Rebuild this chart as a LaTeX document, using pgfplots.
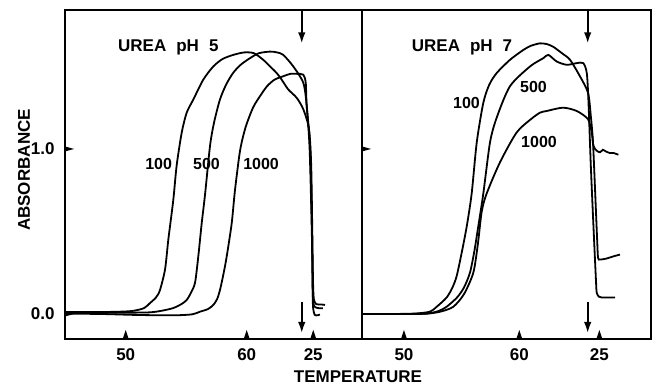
\documentclass[border=0pt]{standalone}
\usepackage{pgfplots}
\pgfplotsset{compat=1.18}
\usepackage{fontspec}
\setmainfont{Liberation Sans}
\usetikzlibrary{arrows.meta}
\newcommand{\lf}{\fontsize{17}{20}\selectfont\bfseries}
\newcommand{\cf}{\fontsize{16}{19}\selectfont\bfseries}
\newcommand{\xtri}[1]{\fill ([xshift=-3pt]axis cs:#1,-0.1515) -- ([yshift=9pt]axis cs:#1,-0.1515) -- ([xshift=3pt]axis cs:#1,-0.1515) -- cycle;}
\begin{document}
\begin{tikzpicture}
\path[use as bounding box] (0,0) rectangle (658pt,387pt);
\pgfplotsset{
  panel/.style={
    scale only axis, anchor=south west, height=329pt,
    ymin=-0.1515, ymax=1.842,
    tick style={draw=none},
    axis line style={line width=1.5pt},
    ticklabel style={font=\lf},
    xticklabel style={yshift=-6pt},
    yticklabel style={xshift=-7pt},
    cycle list={{black,solid}},
    no markers,
    every axis plot/.append style={line width=1.8pt, smooth, tension=0.45},
  }
}
% ---------- left panel: UREA pH 5 ----------
\begin{axis}[panel, at={(65pt,48pt)}, width=297pt,
  xmin=44.98, xmax=69.53,
  xtick={50,60,65.5}, xticklabels={\textbf{50},\textbf{60},\textbf{25}},
  ytick={0,1}, yticklabels={\textbf{0.0},\textbf{1.0}}]
% 100
\addplot coordinates {(45.0,0.012)(47,0.012)(49,0.013)(50.5,0.018)(51.5,0.035)(52.0,0.066)(52.5,0.10)(52.83,0.145)(53.25,0.27)(53.52,0.45)(53.93,0.69)(54.21,0.90)(54.63,1.10)(55.04,1.22)(55.59,1.30)(56.41,1.42)(57.24,1.50)(58.0,1.545)(58.89,1.57)(59.8,1.585)(60.6,1.58)(61.37,1.54)(61.79,1.51)(62.07,1.49)(62.48,1.46)(62.89,1.42)(63.44,1.36)(64.13,1.31)(64.68,1.24)(65.15,1.12)(65.33,0.9)(65.42,0.5)(65.48,0.2)(65.55,0.09)(65.75,0.06)(66.1,0.058)(66.47,0.055)};
% 500
\addplot coordinates {(45.0,0.008)(48,0.008)(50,0.008)(52.0,0.01)(53.0,0.02)(53.93,0.036)(54.6,0.06)(55.04,0.085)(55.4,0.13)(55.73,0.19)(56.0,0.35)(56.28,0.55)(56.55,0.72)(56.97,1.02)(57.3,1.16)(57.79,1.30)(58.3,1.39)(58.87,1.46)(59.5,1.51)(60.27,1.55)(61.0,1.58)(61.93,1.59)(62.5,1.585)(63.02,1.57)(63.85,1.50)(64.68,1.40)(64.96,1.26)(65.2,1.0)(65.38,0.5)(65.45,0.15)(65.52,0.06)(65.7,0.04)(66.0,0.035)(66.3,0.035)};
% 1000
\addplot coordinates {(45.0,0.002)(48,0.0)(51,-0.006)(54,-0.008)(55.5,-0.002)(56.14,0.014)(56.8,0.03)(57.24,0.055)(57.55,0.09)(57.79,0.145)(58.1,0.25)(58.35,0.35)(58.76,0.55)(59.03,0.75)(59.45,0.99)(59.9,1.13)(60.52,1.25)(61.1,1.32)(61.68,1.38)(62.3,1.42)(63.0,1.44)(63.6,1.455)(64.16,1.455)(64.68,1.45)(64.88,1.40)(64.96,1.26)(65.25,1.0)(65.4,0.5)(65.46,0.1)(65.5,0.03)(65.62,-0.005)(65.85,-0.008)(66.05,-0.003)};
% ticks
\xtri{50}\xtri{60}\xtri{65.5}
\fill ([yshift=-2.5pt]axis cs:44.98,1) -- ([xshift=9pt]axis cs:44.98,1) -- ([yshift=2.5pt]axis cs:44.98,1) -- cycle;
\fill ([yshift=-2.5pt]axis cs:44.98,0) -- ([xshift=9pt]axis cs:44.98,0) -- ([yshift=2.5pt]axis cs:44.98,0) -- cycle;
% arrows
\draw[line width=1.7pt, -{Latex[length=11pt,width=7.5pt]}] (axis cs:64.55,1.842) -- (axis cs:64.55,1.64);
\draw[line width=1.7pt, -{Latex[length=11pt,width=7.5pt]}] (axis cs:64.55,0.075) -- (axis cs:64.55,-0.115);
% labels
\node[anchor=base west, font=\lf, inner sep=0pt] at (axis cs:49.36,1.588) {UREA\hspace{10pt}pH\hspace{10pt}5};
\node[anchor=base west, font=\cf, inner sep=0pt] at (axis cs:51.6,0.873) {100};
\node[anchor=base west, font=\cf, inner sep=0pt] at (axis cs:55.56,0.873) {500};
\node[anchor=base west, font=\cf, inner sep=0pt] at (axis cs:59.70,0.873) {1000};
\end{axis}
% ---------- right panel: UREA pH 7 ----------
\begin{axis}[panel, at={(362pt,48pt)}, width=289pt,
  xmin=46.36, xmax=71.42,
  xtick={50,60,66.94}, xticklabels={\textbf{50},\textbf{60},\textbf{25}},
  ytick=\empty]
% 100
\addplot coordinates {(46.36,0.0)(49,0.0)(51,0.003)(52.25,0.014)(52.84,0.044)(53.70,0.10)(54.2,0.16)(54.57,0.23)(55.0,0.37)(55.44,0.53)(55.87,0.73)(56.31,1.04)(56.88,1.28)(57.4,1.39)(58.04,1.46)(59.19,1.54)(60.35,1.60)(61.0,1.625)(61.80,1.64)(62.4,1.635)(62.92,1.62)(63.7,1.58)(64.40,1.54)(65.26,1.44)(65.96,1.34)(66.2,1.2)(66.39,1.04)(66.6,0.7)(66.75,0.45)(66.83,0.34)(67.0,0.33)(67.5,0.335)(68.2,0.35)(68.73,0.36)};
% 500
\addplot coordinates {(46.36,0.0)(50,0.0)(52,0.003)(53.0,0.018)(53.70,0.044)(54.6,0.10)(55.2,0.16)(55.72,0.25)(56.1,0.38)(56.44,0.53)(56.88,0.73)(57.46,1.04)(58.04,1.19)(59.19,1.38)(60.93,1.50)(62.08,1.55)(62.52,1.57)(63.24,1.53)(64.11,1.51)(64.98,1.52)(65.55,1.52)(65.85,1.46)(65.99,1.30)(66.2,0.9)(66.45,0.5)(66.65,0.2)(66.71,0.13)(66.9,0.105)(67.15,0.10)(67.8,0.10)(68.30,0.10)};
% 1000
\addplot coordinates {(46.36,0.0)(50,0.0)(52,0.002)(53.2,0.015)(54.28,0.044)(55.2,0.12)(56.01,0.25)(56.4,0.42)(56.74,0.62)(57.17,0.73)(58.33,0.92)(59.77,1.10)(61.0,1.18)(61.80,1.22)(62.38,1.23)(63.79,1.25)(64.98,1.23)(65.96,1.18)(66.28,1.10)(66.42,1.02)(66.7,0.99)(67.0,0.98)(67.25,0.995)(67.5,0.985)(67.87,0.975)(68.2,0.975)(68.59,0.965)};
% ticks
\xtri{50}\xtri{60}\xtri{66.94}
\fill ([yshift=-2.5pt]axis cs:46.36,1) -- ([xshift=9pt]axis cs:46.36,1) -- ([yshift=2.5pt]axis cs:46.36,1) -- cycle;
% arrows
\draw[line width=1.7pt, -{Latex[length=11pt,width=7.5pt]}] (axis cs:65.93,1.842) -- (axis cs:65.93,1.64);
\draw[line width=1.7pt, -{Latex[length=11pt,width=7.5pt]}] (axis cs:65.93,0.075) -- (axis cs:65.93,-0.115);
% labels
\node[anchor=base west, font=\lf, inner sep=0pt] at (axis cs:50.67,1.588) {UREA\hspace{10pt}pH\hspace{10pt}7};
\node[anchor=base west, font=\cf, inner sep=0pt] at (axis cs:54.25,1.248) {100};
\node[anchor=base west, font=\cf, inner sep=0pt] at (axis cs:60.06,1.345) {500};
\node[anchor=base west, font=\cf, inner sep=0pt] at (axis cs:60.15,1.006) {1000};
\end{axis}
% axis titles
\node[anchor=base, font=\lf, inner sep=0pt] at (358pt,4pt) {TEMPERATURE};
\node[rotate=90, font=\lf, inner sep=0pt] at (24pt,217pt) {ABSORBANCE};
\end{tikzpicture}
\end{document}
